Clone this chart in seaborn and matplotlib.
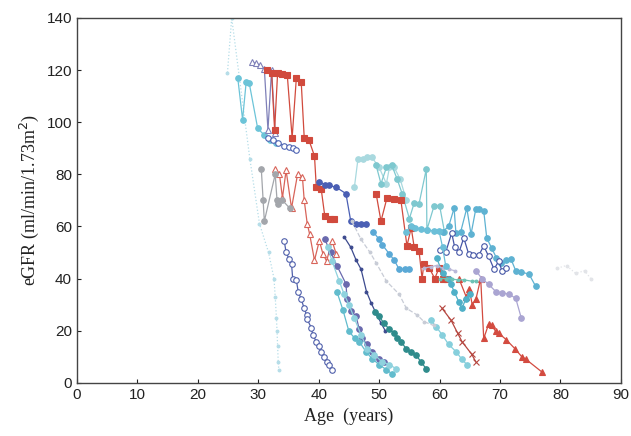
import matplotlib
matplotlib.use("Agg")
import matplotlib.pyplot as plt
import seaborn as sns

# ---- data (age in years, eGFR) ----
s1_age = [24.9, 25.6, 28.6, 30.2, 31.7, 32.6, 32.8, 33.0, 33.1, 33.2, 33.3, 33.4]
s1_gfr = [119, 140, 86, 61, 50, 40, 33, 25, 20, 14, 8, 5]

s2_age = [26.6, 27.4, 28.0, 28.5, 29.9, 31.0, 32.0, 33.0]
s2_gfr = [117, 101, 115.5, 115, 97.6, 95, 93, 92]

s3_age = [29.0, 29.6, 30.3, 31.0, 31.6, 32.2, 32.8]
s3_gfr = [123, 122.5, 122, 120.5, 97, 120, 96]

s4_age = [31.5, 32.2, 32.7, 33.2, 34.0, 34.8, 35.6, 36.3, 37.1, 37.6, 38.4, 39.3, 39.6, 40.4, 41.0, 41.8, 42.5]
s4_gfr = [120, 119, 97, 119, 118.5, 118, 94, 117, 115.5, 94, 93, 87, 75, 74.5, 64, 63, 63]

s5_age = [31.6, 32.5, 33.3, 34.2, 35.0, 35.7, 36.3]
s5_gfr = [94, 93, 92, 91, 90.5, 90, 89.5]

s6_age = [32.8, 33.5, 34.0, 34.6, 35.5, 36.5, 37.3, 37.6, 38.1, 38.5, 39.3, 40.1, 40.7, 41.3, 42.2, 42.9]
s6_gfr = [82, 80, 71, 81.5, 67, 80, 79, 70, 61, 57, 47, 54.5, 49.4, 46.7, 54.5, 49.4]

s7_age = [30.5, 30.8, 31.0, 32.8, 33.1, 33.3, 34.0, 35.2]
s7_gfr = [82, 70, 62, 80, 70, 68.7, 70, 67]

s8_age = [34.3, 34.6, 35.1, 35.5, 35.7, 36.3, 36.6, 37.1, 37.6, 38.0, 38.1, 38.8, 39.0, 39.6, 40.1, 40.4, 40.9, 41.3, 41.7, 42.2]
s8_gfr = [54.4, 50, 47.5, 45.6, 39.8, 39.4, 35, 32, 28.6, 26, 24.3, 21, 18.5, 15.8, 14, 12, 10, 8, 7, 5]

s9_age = [40.1, 41.0, 41.7, 42.9, 44.5, 45.3, 46.2, 47.0, 47.8]
s9_gfr = [77, 76, 75.7, 75, 72.6, 62, 61, 61, 61]

s10_age = [41.0, 42.0, 43.0, 44.5, 44.7, 45.4, 46.2, 46.7, 47.2, 48.0, 48.8, 50.0, 50.8]
s10_gfr = [55, 50, 45, 38, 32, 27.4, 25.5, 20.5, 17, 14.7, 12, 9.3, 8]

s11_age = [44.2, 45.3, 46.2, 47.0, 47.9, 48.7, 49.5, 50.3, 51.0]
s11_gfr = [56, 52, 47, 43.6, 35, 30.5, 26.6, 23, 20]

s12_age = [49.3, 50.0, 50.8, 51.7, 52.5, 53.0, 53.6, 54.5, 55.3, 56.1, 56.9, 57.8]
s12_gfr = [27, 25.5, 22.8, 20.5, 19, 17, 15.8, 13, 12, 10.8, 8, 5.4]

s13_age = [43.0, 44.0, 45.0, 46.0, 46.7, 47.8, 48.8, 50.0, 51.2, 52.1]
s13_gfr = [35, 28, 19.7, 17, 15.8, 12, 9.3, 7, 5, 3.5]

s14_age = [41.5, 42.2, 43.4, 44.2, 45.0, 45.9, 47.0, 48.0, 49.2, 50.5, 51.7, 52.8]
s14_gfr = [52, 46.7, 39, 34, 30, 24.7, 18.5, 13, 10.8, 8, 7, 5.4]

s15_age = [58.5, 59.4, 60.4, 61.5, 62.7, 63.7, 64.5]
s15_gfr = [24, 21.6, 18.5, 14.7, 12, 9, 7]

s16_age = [45.9, 46.5, 47.3, 48.0, 48.8, 50.0, 51.2, 51.7, 52.5, 53.5, 54.5]
s16_gfr = [75, 86, 86, 86.5, 86.5, 82.6, 76.4, 82.6, 82.6, 78, 70]

s17_age = [49.5, 50.3, 51.2, 52.1, 53.0, 53.8, 55.0, 55.8, 56.6, 57.8, 57.9, 59.1, 60.0, 60.8]
s17_gfr = [83.4, 76.4, 82.6, 83.4, 78, 72.6, 63, 69, 68.7, 82, 58.7, 68, 68, 58]

s18_age = [49.5, 50.3, 51.3, 52.5, 53.6, 54.6, 55.3, 55.8, 56.6, 57.1, 57.4, 58.3, 59.2, 59.9, 60.5, 61.2]
s18_gfr = [72.5, 62, 71, 70.7, 70, 52.5, 59.5, 52, 50.5, 40, 45.5, 44, 40, 44, 40, 40]

s19_age = [60.4, 61.9, 63.0, 63.7, 65.3, 66.0]
s19_gfr = [28.6, 24, 19, 15.8, 11, 8]

s20_age = [63.2, 64.4, 64.9, 65.4, 66.0, 66.8, 67.3, 68.1, 68.6, 69.3, 69.8, 71.0, 72.5, 73.6, 74.3, 76.9]
s20_gfr = [40, 33, 36, 30, 32, 40, 17, 22.4, 22, 19.7, 19, 16.6, 13, 10, 9, 4.2]

s21_age = [60.5, 61.5, 62.4, 62.7, 63.5, 64.5, 65.2, 66.0, 66.5, 67.3, 67.8, 68.6, 69.4, 70.1, 71.0, 71.8, 72.6, 73.5, 74.8, 75.9]
s21_gfr = [58, 60, 67, 57.5, 58, 67, 57, 66.8, 66.8, 66, 55.6, 51.7, 48, 46, 47, 47.5, 43, 42.5, 41.7, 37]

s22_age = [60.0, 61.0, 62.0, 62.5, 63.2, 64.0, 64.8, 65.5, 66.5, 67.3, 68.1, 69.0, 69.8, 70.3, 71.0]
s22_gfr = [51, 50, 57.5, 52, 50, 55.6, 49.5, 49, 49, 52.5, 48.6, 43.6, 46.7, 43, 44]

s23_age = [66.0, 67.0, 68.1, 69.3, 70.3, 71.5, 72.6, 73.5]
s23_gfr = [43, 40, 37.8, 35, 34.5, 34, 32.4, 25]

s24_age = [59.5, 60.5, 61.5, 61.9, 62.4, 63.2, 63.7, 64.3, 65.0]
s24_gfr = [48, 42, 40, 37.8, 35, 31, 28.6, 32, 34]

s25_age = [57.5, 58.5, 59.5, 60.5, 61.5, 62.5]
s25_gfr = [44, 44.5, 45, 44, 43.6, 43]

s26_age = [45.5, 47.0, 48.5, 49.5, 51.2, 53.3, 54.5, 56.3, 57.4, 59.0]
s26_gfr = [62, 55, 50, 46, 39, 34, 28.6, 26, 23.5, 22]

s27_age = [49.0, 50.0, 50.5, 51.7, 52.5, 53.3, 54.2, 55.0]
s27_gfr = [58, 55, 53, 49.4, 47, 43.6, 43.6, 43.6]

s28_age = [79.5, 81.0, 82.5, 84.0, 85.0]
s28_gfr = [44, 45, 42, 43, 40]

s29_age = [60.0, 61.0, 62.0, 63.0, 64.0, 65.3, 66.0]
s29_gfr = [40, 40, 39.8, 39.5, 39.5, 39, 39]

s30_age = [54.5, 55.3, 56.0, 57.0, 57.9, 59.0, 59.9, 60.5, 61.0]
s30_gfr = [58, 60, 59.5, 59, 58.7, 58.3, 58.3, 52, 45]

series = [
    (s1_age, s1_gfr, "#b5dde8", ".", True, ":"),
    (s2_age, s2_gfr, "#6cc4d8", "o", True, "-"),
    (s3_age, s3_gfr, "#7f80b8", "^", False, "-"),
    (s4_age, s4_gfr, "#d14a3d", "s", True, "-"),
    (s5_age, s5_gfr, "#4d63b3", "o", False, "-"),
    (s6_age, s6_gfr, "#d8645a", "^", False, "-"),
    (s7_age, s7_gfr, "#a3a6ab", "o", True, "-"),
    (s8_age, s8_gfr, "#5060ab", "o", False, "-"),
    (s9_age, s9_gfr, "#4a5fb4", "o", True, "-"),
    (s10_age, s10_gfr, "#6a6aae", "o", True, "-"),
    (s11_age, s11_gfr, "#3c4a8e", ".", True, "-"),
    (s12_age, s12_gfr, "#2f8c8c", "o", True, "-"),
    (s13_age, s13_gfr, "#62bccd", "o", True, "-"),
    (s14_age, s14_gfr, "#8fd2de", "o", True, "-"),
    (s15_age, s15_gfr, "#86cfdc", "o", True, "-"),
    (s16_age, s16_gfr, "#a9d9df", "o", True, "-"),
    (s17_age, s17_gfr, "#7ec8cf", "o", True, "-"),
    (s18_age, s18_gfr, "#d14a3d", "s", True, "-"),
    (s19_age, s19_gfr, "#b5463f", "x", True, "-"),
    (s20_age, s20_gfr, "#d34b40", "^", True, "-"),
    (s21_age, s21_gfr, "#5eb2d2", "o", True, "-"),
    (s22_age, s22_gfr, "#4556a6", "o", False, "-"),
    (s23_age, s23_gfr, "#aaa5d2", "o", True, "-"),
    (s24_age, s24_gfr, "#4fb0c8", "o", True, "-"),
    (s25_age, s25_gfr, "#b9b8d8", ".", True, "-"),
    (s26_age, s26_gfr, "#c8ccd6", ".", True, "--"),
    (s27_age, s27_gfr, "#5aa9d6", "o", True, "-"),
    (s28_age, s28_gfr, "#e2e4e8", ".", True, ":"),
    (s29_age, s29_gfr, "#6cc2b5", ".", True, "-"),
    (s30_age, s30_gfr, "#6bbfd8", "o", True, "-"),
]

sns.set_style("ticks")
plt.rcParams['font.family'] = ['Liberation Sans', 'DejaVu Sans']

fig = plt.figure(figsize=(6.31, 4.36), dpi=100)
ax = fig.add_axes([0.122, 0.122, 0.862, 0.837])

for age, gfr, col, mk, filled, ls in series:
    face = col if filled else "white"
    sns.lineplot(x=age, y=gfr, ax=ax, color=col, marker=mk, markersize=4,
                 markerfacecolor=face, markeredgecolor=col, markeredgewidth=0.8,
                 linewidth=0.9, linestyle=ls, estimator=None, sort=False)

ax.set_xlim(0, 90)
ax.set_ylim(0, 140)
ax.set_xticks(range(0, 91, 10))
ax.set_yticks(range(0, 141, 20))
ax.tick_params(direction="in", length=3, labelsize=11, colors="#222222")
for sp in ax.spines.values():
    sp.set_visible(True)
    sp.set_color("#444444")
    sp.set_linewidth(1.0)

ax.set_xlabel("Age  (years)", family="Liberation Serif", fontsize=13, color="#222222")
ax.set_ylabel("eGFR (ml/min/1.73m$^2$)", family="Liberation Serif", fontsize=13, color="#222222")

fig.savefig("out.png", dpi=100)
